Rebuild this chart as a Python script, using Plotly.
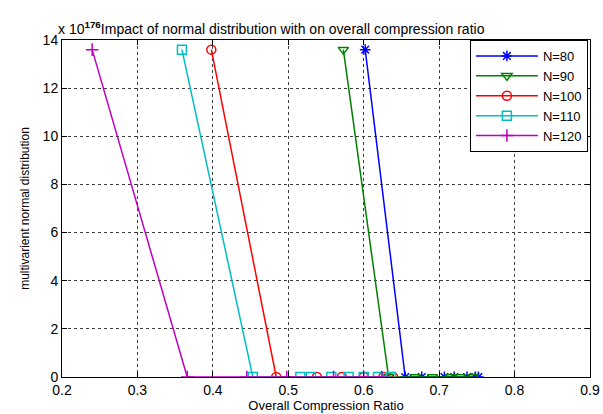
import plotly.graph_objects as go

# values in units of 1e176
names = ["N=80", "N=90", "N=100", "N=110", "N=120"]
x80 = [0.602, 0.655, 0.677, 0.707, 0.720, 0.737, 0.748, 0.752]
y80 = [13.6, 0, 0, 0, 0, 0, 0, 0]
x90 = [0.573, 0.633, 0.668, 0.691, 0.715, 0.728, 0.745]
y90 = [13.6, 0, 0, 0, 0, 0, 0]
x100 = [0.398, 0.484, 0.538, 0.571, 0.600, 0.626, 0.639]
y100 = [13.6, 0, 0, 0, 0, 0, 0]
x110 = [0.359, 0.453, 0.516, 0.530, 0.557, 0.580, 0.600, 0.619, 0.636]
y110 = [13.6, 0, 0, 0, 0, 0, 0, 0, 0]
x120 = [0.240, 0.366, 0.445, 0.498, 0.560, 0.600, 0.624]
y120 = [13.6, 0, 0, 0, 0, 0, 0]

xs = [x80, x90, x100, x110, x120]
ys = [y80, y90, y100, y110, y120]
colors = ["rgb(0,0,255)", "rgb(0,128,0)", "rgb(255,0,0)", "rgb(0,191,191)", "rgb(191,0,191)"]
symbols = ["asterisk-open", "triangle-down-open", "circle-open", "square-open", "cross-thin-open"]

fig = go.Figure()
for n, x, y, c, s in zip(names, xs, ys, colors, symbols):
    fig.add_trace(go.Scatter(
        x=x, y=y, name=n, mode="lines+markers",
        line=dict(color=c, width=1.5),
        marker=dict(symbol=s, size=9, color=c, line=dict(color=c, width=1.5)),
    ))

font = "Liberation Sans, Arial, sans-serif"
axis_common = dict(
    showline=True, linecolor="black", linewidth=1, mirror="allticks",
    ticks="inside", ticklen=5, tickcolor="black", automargin=False,
    showgrid=True, gridcolor="rgb(60,60,60)", griddash="dot", gridwidth=1,
    zeroline=False, tickfont=dict(family=font, size=14, color="black"),
)
fig.update_xaxes(range=[0.2, 0.9], dtick=0.1, tickformat=".1f",
                 title=dict(text="Overall Compression Ratio", font=dict(family=font, size=13, color="black"), standoff=3),
                 **axis_common)
fig.update_yaxes(range=[0, 14], dtick=2,
                 title=dict(text="multivarient normal distribution", font=dict(family=font, size=12, color="black"), standoff=10),
                 **axis_common)

fig.update_layout(
    width=603, height=414,
    margin=dict(l=62, r=13, t=40, b=37),
    plot_bgcolor="white", paper_bgcolor="white",
    font=dict(family=font, color="black"),
    showlegend=True,
    legend=dict(x=0.996, y=1.0, xanchor="right", yanchor="top",
                bgcolor="white", bordercolor="black", borderwidth=1,
                font=dict(family=font, size=13, color="black"),
                tracegroupgap=0, itemwidth=62),
    annotations=[dict(
        text="x 10<sup><b>176</b></sup>Impact of normal distribution with on overall compression ratio",
        xref="paper", yref="paper", x=0, y=1, xshift=-6, yshift=1,
        xanchor="left", yanchor="bottom", showarrow=False,
        font=dict(family=font, size=14, color="black"),
    )],
)

fig.write_html("out.html")
